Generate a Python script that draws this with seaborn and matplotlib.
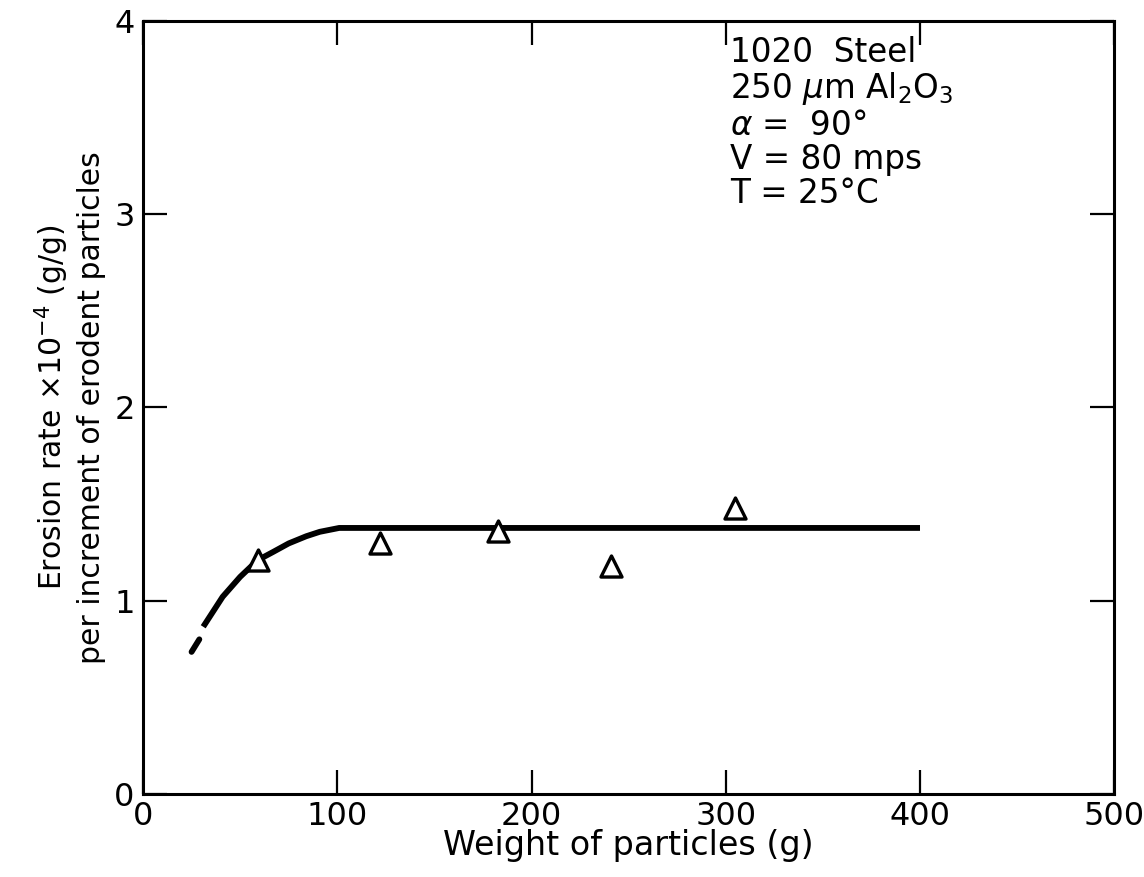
import numpy as np
from matplotlib import pyplot as plt
import seaborn as sns
import pandas as pd

# measured erosion points (triangles)
weight = [59, 122, 183, 241, 305]
rate = [1.21, 1.30, 1.36, 1.18, 1.48]

# hand drawn trend curve, short dashed start then main curve
dash_x = [25, 29]
dash_y = [0.735, 0.80]
curve_x = [31, 41, 50, 59, 67, 75, 84, 91, 101, 400]
curve_y = [0.865, 1.02, 1.123, 1.209, 1.252, 1.296, 1.333, 1.356, 1.376, 1.376]

xticks = [0, 100, 200, 300, 400, 500]
yticks = [0, 1, 2, 3, 4]

note = ["1020  Steel", "250 $\\mu$m Al$_2$O$_3$", "$\\alpha$ =  90°", "V = 80 mps", "T = 25°C"]

sns.set_style("ticks")
plt.rcParams['font.family'] = ['DejaVu Sans']
plt.rcParams['mathtext.fontset'] = 'dejavusans'
plt.rcParams['text.color'] = 'black'
plt.rcParams['axes.labelcolor'] = 'black'

fig = plt.figure(figsize=(11.44, 8.77), dpi=100)
ax = fig.add_axes([0.125, 0.0946, 0.849, 0.882])

pts = pd.DataFrame({"w": weight, "r": rate})
dash = pd.DataFrame({"w": dash_x, "r": dash_y})
curve = pd.DataFrame({"w": curve_x, "r": curve_y})

sns.lineplot(data=dash, x="w", y="r", ax=ax, color="black", linewidth=4.2,
             sort=False, solid_capstyle="round")
sns.lineplot(data=curve, x="w", y="r", ax=ax, color="black", linewidth=4.2,
             sort=False, solid_capstyle="butt")
sns.scatterplot(data=pts, x="w", y="r", ax=ax, marker="^", s=230,
                facecolor="white", edgecolor="black", linewidth=2.4, zorder=5)

ax.set_xlim(0, 500)
ax.set_ylim(0, 4)
ax.set_xticks(xticks)
ax.set_yticks(yticks)
ax.tick_params(direction="in", length=17, width=1.6, top=True, right=True,
               labelsize=23, colors="black")
ax.tick_params(axis="x", pad=5)
ax.tick_params(axis="y", pad=6)
for s in ax.spines.values():
    s.set_linewidth(2.2)
    s.set_color("black")

ax.set_xlabel("Weight of particles (g)", fontsize=24, labelpad=-2)
ax.set_ylabel("Erosion rate \u00d710$^{-4}$ (g/g)\nper increment of erodent particles",
              fontsize=21.5, labelpad=6, linespacing=1.25)

ax.text(302, 3.92, "\n".join(note), fontsize=23.5, va="top", ha="left", linespacing=1.05)

plt.savefig("out.png", dpi=100)
